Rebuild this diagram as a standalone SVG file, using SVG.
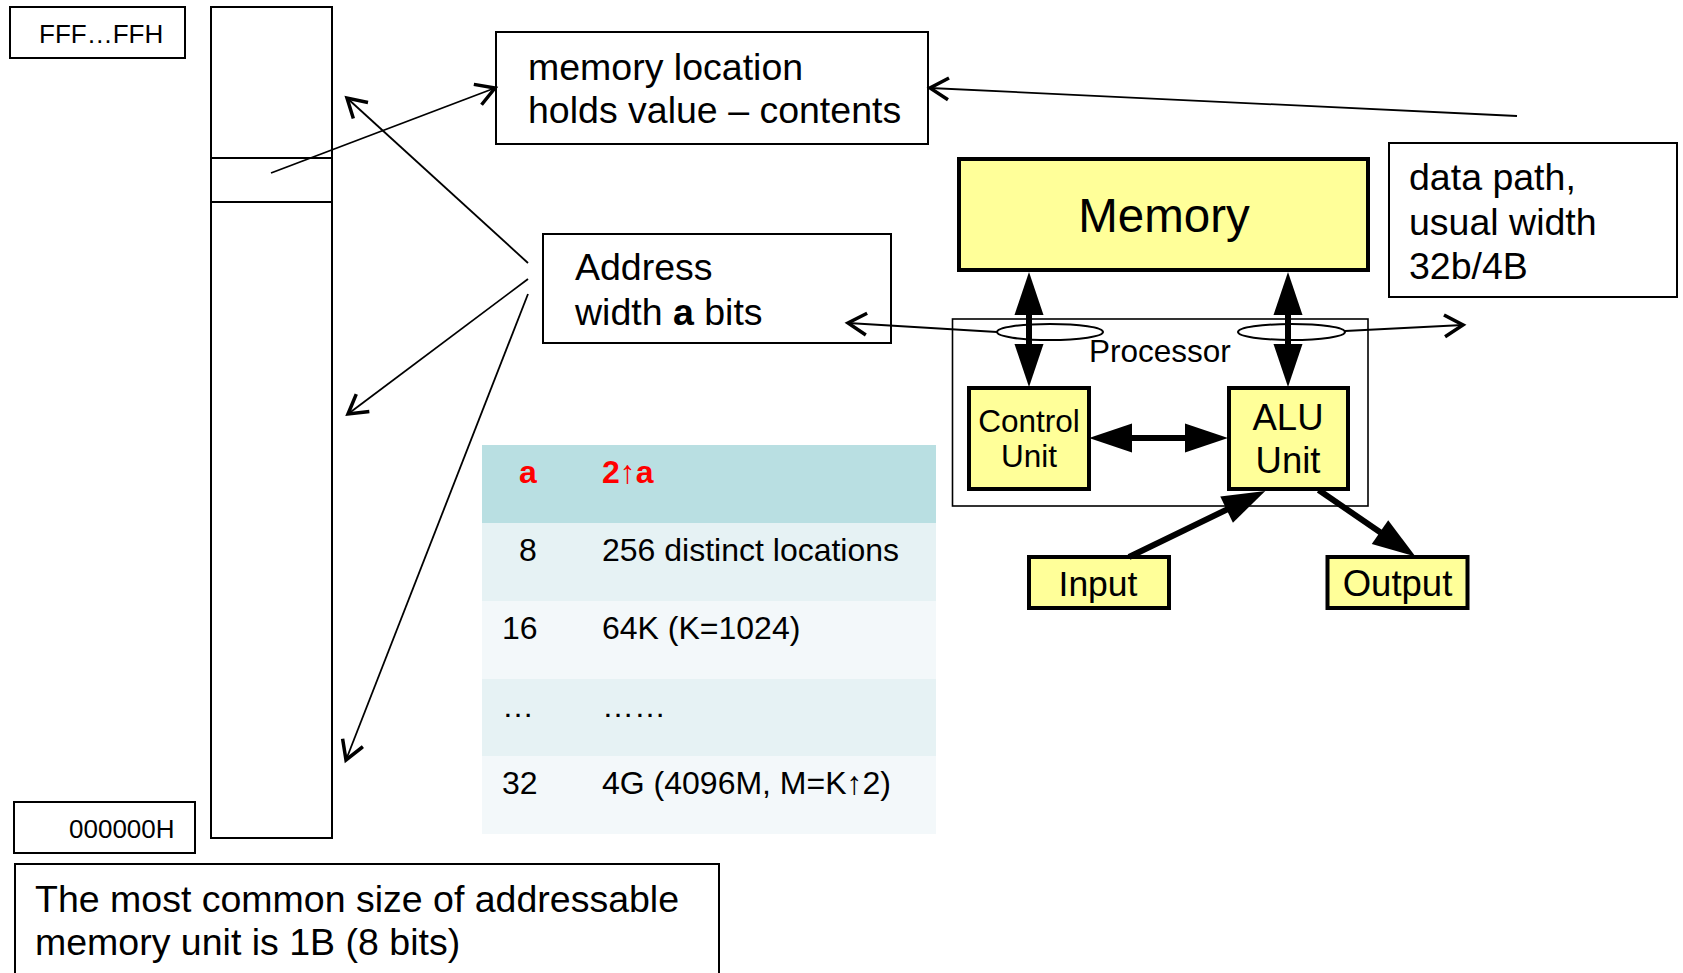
<svg xmlns="http://www.w3.org/2000/svg" width="1683" height="973" viewBox="0 0 1683 973">
  <style>
    text { font-family: "Liberation Sans", Arial, sans-serif; fill: #000; }
    .box { fill: #fff; stroke: #000; stroke-width: 2; }
    .unit { fill: #ffff99; stroke: #000; stroke-width: 4; }
    .thin { fill: none; stroke: #000; stroke-width: 1.8; }
    .bold { fill: none; stroke: #000; stroke-width: 6; }
    .callout { font-size: 37.5px; }
    .addr { font-size: 26px; }
    .tbl { font-size: 32px; }
    .hdr { font-size: 32px; font-weight: bold; fill: #ff0000; }
  </style>
  <defs>
    <marker id="open" markerUnits="userSpaceOnUse" markerWidth="40" markerHeight="40" refX="0" refY="0" orient="auto" overflow="visible">
      <path d="M-17,-10 L0,0 L-17,10" fill="none" stroke="#000" stroke-width="3.5" stroke-linecap="square"/>
    </marker>
    <marker id="solid" markerUnits="userSpaceOnUse" markerWidth="80" markerHeight="40" refX="0" refY="0" orient="auto" overflow="visible">
      <path d="M22,0 L-21,-14.5 L-21,14.5 Z" fill="#000"/>
    </marker>
    <marker id="solidStart" markerUnits="userSpaceOnUse" markerWidth="80" markerHeight="40" refX="0" refY="0" orient="auto-start-reverse" overflow="visible">
      <path d="M22,0 L-21,-14.5 L-21,14.5 Z" fill="#000"/>
    </marker>
  </defs>

  <!-- address range labels -->
  <g id="addr-high">
    <rect class="box" x="10" y="7" width="175" height="51"/>
    <text class="addr" x="39" y="43">FFF…FFH</text>
  </g>
  <g id="addr-low">
    <rect class="box" x="14" y="802" width="181" height="51"/>
    <text class="addr" x="69" y="838">000000H</text>
  </g>

  <!-- memory column with one highlighted cell -->
  <g id="memory-column">
    <rect class="box" x="211" y="7" width="121" height="831"/>
    <line x1="211" y1="158" x2="332" y2="158" stroke="#000" stroke-width="2"/>
    <line x1="211" y1="202" x2="332" y2="202" stroke="#000" stroke-width="2"/>
  </g>

  <g id="note-location">
    <rect class="box" x="496" y="32" width="432" height="112"/>
    <text class="callout" x="528" y="80">memory location</text>
    <text class="callout" x="528" y="123">holds value – contents</text>
  </g>

  <g id="note-address">
    <rect class="box" x="543" y="234" width="348" height="109"/>
    <text class="callout" x="575" y="280">Address</text>
    <text class="callout" x="575" y="325">width <tspan font-weight="bold">a</tspan> bits</text>
  </g>

  <g id="note-datapath">
    <rect class="box" x="1389" y="143" width="288" height="154"/>
    <text class="callout" x="1409" y="190">data path,</text>
    <text class="callout" x="1409" y="235">usual width</text>
    <text class="callout" x="1409" y="279">32b/4B</text>
  </g>

  <g id="note-unit">
    <rect class="box" x="15" y="864" width="704" height="130"/>
    <text class="callout" x="35" y="912">The most common size of addressable</text>
    <text class="callout" x="35" y="955">memory unit is 1B (8 bits)</text>
  </g>

  <!-- address width table -->
  <g id="width-table">
    <rect x="482" y="445" width="454" height="78" fill="#b9dfe2"/>
    <rect x="482" y="523" width="454" height="78" fill="#e6f2f4"/>
    <rect x="482" y="601" width="454" height="78" fill="#f3f8fa"/>
    <rect x="482" y="679" width="454" height="77" fill="#e6f2f4"/>
    <rect x="482" y="756" width="454" height="78" fill="#f3f8fa"/>
    <text class="hdr" x="519" y="483">a</text>
    <text class="hdr" x="602" y="483">2↑a</text>
    <text class="tbl" x="519" y="561">8</text>
    <text class="tbl" x="602" y="561">256 distinct locations</text>
    <text class="tbl" x="502" y="639">16</text>
    <text class="tbl" x="602" y="639">64K (K=1024)</text>
    <text class="tbl" x="502" y="717">…</text>
    <text class="tbl" x="602" y="717">……</text>
    <text class="tbl" x="502" y="794">32</text>
    <text class="tbl" x="602" y="794">4G (4096M, M=K↑2)</text>
  </g>

  <!-- computer organisation -->
  <g id="processor">
    <rect x="952.5" y="319" width="415.5" height="187" fill="none" stroke="#000" stroke-width="1.6"/>
    <text x="1089" y="362" font-size="31.5">Processor</text>
  </g>
  <g id="memory">
    <rect class="unit" x="959" y="159" width="409" height="111"/>
    <text x="1164" y="232" font-size="47.5" text-anchor="middle">Memory</text>
  </g>
  <g id="control-unit">
    <rect class="unit" x="969" y="388" width="120" height="101"/>
    <text x="1029" y="432" font-size="31.5" text-anchor="middle">Control</text>
    <text x="1029" y="467" font-size="31.5" text-anchor="middle">Unit</text>
  </g>
  <g id="alu-unit">
    <rect class="unit" x="1229" y="388" width="119" height="101"/>
    <text x="1288" y="430" font-size="36.5" text-anchor="middle">ALU</text>
    <text x="1288" y="473" font-size="36.5" text-anchor="middle">Unit</text>
  </g>
  <g id="input">
    <rect class="unit" x="1029" y="557" width="140" height="51"/>
    <text x="1098" y="596" font-size="35.5" text-anchor="middle">Input</text>
  </g>
  <g id="output">
    <rect class="unit" x="1327.5" y="557" width="140" height="51"/>
    <text x="1397.5" y="596" font-size="36.5" text-anchor="middle">Output</text>
  </g>

  <g id="connectors">
    <!-- callout pointers -->
    <line class="thin" x1="271" y1="173" x2="495" y2="88" marker-end="url(#open)"/>
    <line class="thin" x1="1517" y1="116" x2="930" y2="88" marker-end="url(#open)"/>
    <line class="thin" x1="528" y1="263" x2="347" y2="98" marker-end="url(#open)"/>
    <line class="thin" x1="528" y1="279" x2="348" y2="414" marker-end="url(#open)"/>
    <line class="thin" x1="528" y1="294" x2="346" y2="760" marker-end="url(#open)"/>
    <line class="thin" x1="997" y1="332" x2="848" y2="323" marker-end="url(#open)"/>
    <line class="thin" x1="1345" y1="331" x2="1463" y2="325" marker-end="url(#open)"/>

    <!-- data buses -->
    <line class="bold" x1="1029" y1="294" x2="1029" y2="365" marker-start="url(#solidStart)" marker-end="url(#solid)"/>
    <line class="bold" x1="1288" y1="294" x2="1288" y2="365" marker-start="url(#solidStart)" marker-end="url(#solid)"/>
    <line class="bold" x1="1111" y1="438" x2="1206" y2="438" marker-start="url(#solidStart)" marker-end="url(#solid)"/>
    <line class="bold" x1="1129" y1="557" x2="1245.5" y2="500.5" marker-end="url(#solid)"/>
    <line class="bold" x1="1318.6" y1="490" x2="1397.3" y2="544" marker-end="url(#solid)"/>

    <!-- bus width rings -->
    <ellipse cx="1050" cy="332" rx="53" ry="8" fill="none" stroke="#000" stroke-width="2"/>
    <ellipse cx="1291.5" cy="332" rx="53.5" ry="8" fill="none" stroke="#000" stroke-width="2"/>
  </g>
</svg>
